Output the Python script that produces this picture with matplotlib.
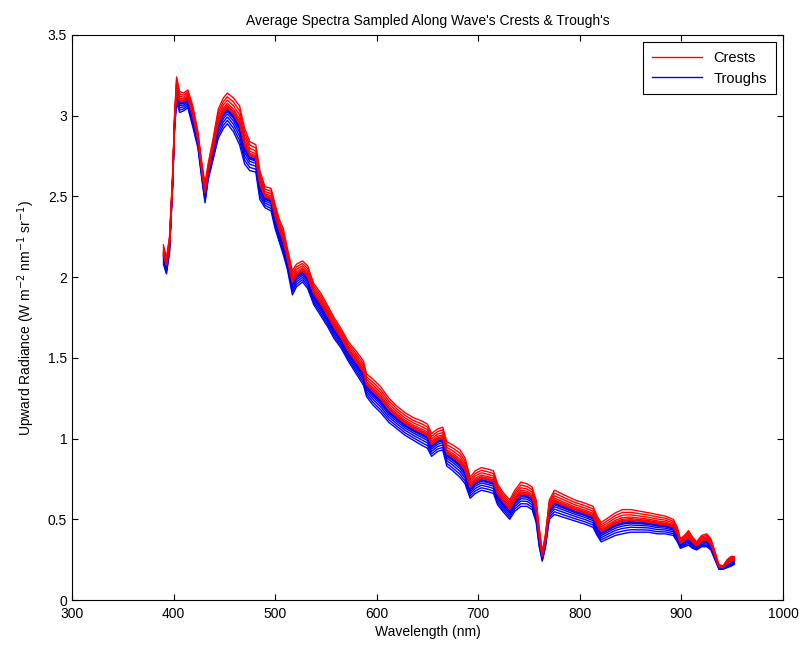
import matplotlib
import numpy as np

matplotlib.use('Agg')
import matplotlib.pyplot as plt

plt.rcParams['font.family'] = ['Liberation Sans', 'DejaVu Sans']

# wavelength (nm) and the upper / lower envelope of the bundle of spectra
wavelength = [390, 393, 396, 399, 401, 403, 406, 410, 414, 419, 424, 428, 431, 434,
              439, 444, 449, 453, 459, 465, 470, 475, 481, 485, 490, 496, 500, 504,
              508, 512, 517, 521, 527, 532, 538, 545, 552, 558, 565, 572, 580, 587,
              590, 596, 604, 612, 620, 628, 636, 644, 650, 654, 660, 665, 669, 675,
              682, 687, 692, 697, 703, 710, 715, 719, 724, 731, 736, 742, 748, 753,
              757, 760, 763, 766, 770, 775, 785, 795, 805, 813, 817, 821, 828, 835,
              842, 850, 859, 868, 876, 884, 892, 896, 899, 903, 907, 911, 915, 920,
              925, 929, 933, 937, 941, 945, 949, 952]
crest_top = [2.20, 2.12, 2.25, 2.62, 3.00, 3.24, 3.15, 3.14, 3.16, 3.06, 2.90, 2.70, 2.58, 2.70,
             2.86, 3.04, 3.11, 3.14, 3.11, 3.06, 2.92, 2.84, 2.82, 2.66, 2.56, 2.55, 2.45, 2.36,
             2.30, 2.18, 2.04, 2.08, 2.10, 2.07, 1.96, 1.90, 1.82, 1.75, 1.68, 1.60, 1.54, 1.48,
             1.40, 1.37, 1.32, 1.25, 1.20, 1.16, 1.13, 1.11, 1.09, 1.03, 1.06, 1.07, 0.98, 0.96,
             0.93, 0.88, 0.76, 0.80, 0.82, 0.81, 0.80, 0.72, 0.67, 0.62, 0.68, 0.73, 0.72, 0.70,
             0.62, 0.45, 0.30, 0.40, 0.62, 0.68, 0.65, 0.62, 0.60, 0.58, 0.52, 0.48, 0.51, 0.54,
             0.56, 0.56, 0.55, 0.54, 0.53, 0.52, 0.50, 0.45, 0.38, 0.40, 0.43, 0.39, 0.36, 0.40,
             0.41, 0.38, 0.30, 0.22, 0.21, 0.25, 0.27, 0.27]
trough_bottom = [2.08, 2.02, 2.15, 2.55, 2.92, 3.08, 3.02, 3.03, 3.05, 2.93, 2.80, 2.60, 2.46, 2.60,
                 2.73, 2.86, 2.92, 2.95, 2.90, 2.82, 2.70, 2.66, 2.65, 2.48, 2.43, 2.41, 2.30, 2.22,
                 2.14, 2.05, 1.89, 1.94, 1.97, 1.93, 1.83, 1.76, 1.69, 1.62, 1.56, 1.48, 1.40, 1.33,
                 1.26, 1.21, 1.16, 1.10, 1.06, 1.02, 0.99, 0.96, 0.94, 0.89, 0.92, 0.93, 0.83, 0.80,
                 0.76, 0.72, 0.63, 0.66, 0.68, 0.67, 0.66, 0.59, 0.55, 0.50, 0.55, 0.58, 0.58, 0.56,
                 0.48, 0.33, 0.24, 0.32, 0.50, 0.53, 0.51, 0.49, 0.47, 0.45, 0.40, 0.36, 0.38, 0.40,
                 0.41, 0.42, 0.42, 0.42, 0.41, 0.41, 0.40, 0.36, 0.32, 0.33, 0.34, 0.32, 0.31, 0.33,
                 0.33, 0.31, 0.25, 0.19, 0.19, 0.20, 0.21, 0.22]

# where each sampled spectrum sits inside the bundle (0 = bottom, 1 = top)
crest_pos = [1.0, 0.88, 0.77, 0.67, 0.6, 0.55, 0.52]
trough_pos = [0.47, 0.44, 0.4, 0.32, 0.22, 0.11, 0.0]

wl = np.array(wavelength)
top = np.array(crest_top)
bot = np.array(trough_bottom)

fig = plt.figure(figsize=(8.08, 6.49), dpi=100)
ax = fig.add_axes([0.0891, 0.0755, 0.8799, 0.8706])

for i, p in enumerate(trough_pos):
    ax.plot(wl, bot + p * (top - bot), color='blue', lw=1.0,
            label='Troughs' if i == 0 else None)
for i, p in enumerate(crest_pos):
    ax.plot(wl, bot + p * (top - bot), color='red', lw=1.0,
            label='Crests' if i == 0 else None)

ax.set_xlim(300, 1000)
ax.set_ylim(0, 3.5)
ax.set_xticks(range(300, 1001, 100))
ax.set_yticks([0, 0.5, 1, 1.5, 2, 2.5, 3, 3.5])
ax.set_yticklabels(['0', '0.5', '1', '1.5', '2', '2.5', '3', '3.5'])
ax.tick_params(direction='in', top=True, right=True, labelsize=10, length=4)
ax.tick_params(axis='x', pad=5)
ax.set_xlabel('Wavelength (nm)', fontsize=10, labelpad=3)
ax.set_ylabel('Upward Radiance (W m$^{-2}$ nm$^{-1}$ sr$^{-1}$)', fontsize=10, labelpad=8)
ax.set_title("Average Spectra Sampled Along Wave's Crests & Trough's", fontsize=10, pad=7)

handles, labels = ax.get_legend_handles_labels()
leg = ax.legend(handles[::-1], labels[::-1], loc='upper right', fontsize=10.5,
                fancybox=False, edgecolor='black', framealpha=1, borderaxespad=0.5,
                borderpad=0.6, handlelength=3.4, handletextpad=0.8, labelspacing=0.45)
leg.get_frame().set_linewidth(0.8)

plt.savefig('out.png', dpi=100)
